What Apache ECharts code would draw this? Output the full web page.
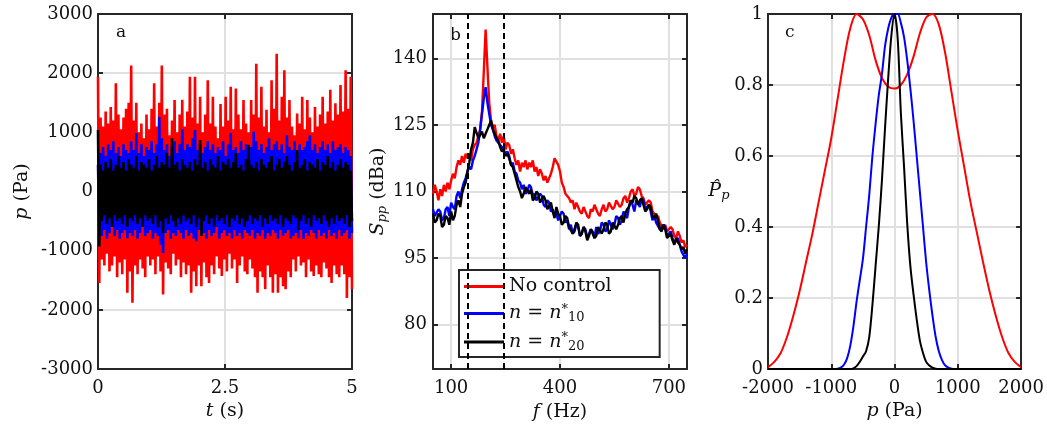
<!DOCTYPE html>
<html><head><meta charset="utf-8">
<script src="https://cdn.jsdelivr.net/npm/echarts@6/dist/echarts.min.js"></script>
<style>html,body{margin:0;padding:0;background:#fff}#c{width:1047px;height:432px}</style>
</head><body><div id="c"></div>
<script>
const F = 'DejaVu Serif';
// ---- panel a: envelope samples (upper / lower) of p(t), 100 samples over 0..5 s
const redUp = [1940,1250,1100,1350,1150,1430,1200,1830,1300,1050,1250,1400,1500,2130,1200,1500,1000,1150,900,1300,1050,1400,1830,1100,1500,2130,1300,1400,950,1200,1545,1000,1300,1550,1100,1350,1940,1250,1940,1150,1600,1000,1300,1880,1150,1600,1100,900,1480,1100,1600,1200,1770,1050,1740,1300,1050,1545,1150,1000,1545,1300,2160,1250,1770,1100,1380,1000,1880,1400,2330,1200,1600,2050,1250,1545,1100,950,1320,1150,1600,1050,1545,1250,1000,1430,1100,1300,1600,1150,1350,1720,1200,1490,1300,1800,1350,2050,1400,1940];
const redLo = [-1545,-1150,-1250,-1050,-1350,-1250,-1100,-1450,-1200,-1400,-1150,-1710,-1350,-1880,-1250,-1400,-1150,-1300,-1450,-1100,-1250,-1150,-1400,-1100,-1350,-1740,-1200,-1300,-1400,-1050,-1250,-1150,-1450,-1200,-1400,-1250,-1710,-1350,-1600,-1250,-1600,-1200,-1450,-1545,-1250,-1400,-1100,-1300,-1430,-1150,-1350,-1050,-1300,-1150,-1545,-1250,-1100,-1350,-1400,-1150,-1300,-1450,-1710,-1350,-1450,-1650,-1250,-1450,-1710,-1400,-1710,-1450,-1600,-1650,-1350,-1450,-1150,-1350,-1100,-1250,-1200,-1450,-1150,-1350,-1430,-1250,-1400,-1450,-1200,-1300,-1450,-1545,-1250,-1400,-1450,-1250,-1400,-1800,-1450,-1650];
const blueUp = [450,650,750,600,800,700,850,650,750,600,800,700,650,850,700,990,650,800,600,750,700,850,650,800,1260,900,700,800,600,750,850,650,800,1050,700,800,750,900,1040,700,800,650,750,850,700,800,650,750,700,850,600,800,990,700,750,650,850,700,800,650,750,1010,850,700,800,650,750,900,700,800,850,700,800,650,950,750,700,850,650,800,700,750,850,950,700,800,650,750,850,700,800,650,850,700,750,800,650,750,700,600];
const blueLo = [-650,-750,-650,-800,-700,-600,-750,-650,-800,-700,-650,-790,-700,-750,-650,-800,-700,-600,-750,-700,-650,-800,-700,-750,-900,-1040,-700,-650,-800,-700,-750,-650,-700,-800,-650,-750,-700,-800,-840,-650,-750,-700,-800,-650,-750,-700,-600,-800,-700,-650,-750,-700,-800,-650,-750,-700,-800,-650,-700,-750,-650,-800,-700,-750,-650,-800,-700,-750,-650,-700,-800,-650,-750,-700,-650,-800,-750,-700,-790,-650,-800,-700,-750,-650,-700,-800,-650,-750,-700,-800,-650,-750,-700,-800,-650,-750,-700,-650,-800,-700];
const blackUp = [1040,450,350,500,400,550,350,450,600,400,500,350,550,450,400,600,350,500,450,400,550,350,450,600,400,500,450,650,400,900,450,500,350,550,450,400,500,350,550,450,870,400,500,350,550,450,400,600,350,500,450,550,400,500,650,400,450,350,550,790,450,400,500,350,550,450,400,500,600,350,450,550,400,500,600,450,350,500,700,400,450,550,350,500,450,400,550,350,500,450,600,400,500,350,450,550,400,500,450,350];
const blackLo = [-930,-500,-400,-550,-450,-600,-400,-500,-450,-550,-400,-600,-450,-500,-400,-550,-450,-600,-400,-500,-450,-550,-400,-600,-500,-700,-450,-550,-400,-500,-600,-450,-550,-400,-500,-450,-550,-400,-600,-450,-750,-500,-400,-550,-450,-600,-400,-500,-450,-550,-400,-600,-450,-500,-400,-550,-450,-600,-500,-400,-550,-450,-500,-400,-600,-450,-550,-400,-500,-450,-550,-400,-600,-450,-500,-550,-400,-450,-650,-500,-400,-550,-450,-600,-400,-500,-450,-550,-400,-500,-600,-450,-550,-400,-500,-450,-550,-400,-600,-500];
// ---- panel b: spectra, 5 Hz grid from 50 to 750 Hz
const freq = [50,55,60,65,70,75,80,85,90,95,100,105,110,115,120,125,130,135,140,145,150,155,160,165,170,175,180,185,190,195,200,205,210,215,220,225,230,235,240,245,250,255,260,265,270,275,280,285,290,295,300,305,310,315,320,325,330,335,340,345,350,355,360,365,370,375,380,385,390,395,400,405,410,415,420,425,430,435,440,445,450,455,460,465,470,475,480,485,490,495,500,505,510,515,520,525,530,535,540,545,550,555,560,565,570,575,580,585,590,595,600,605,610,615,620,625,630,635,640,645,650,655,660,665,670,675,680,685,690,695,700,705,710,715,720,725,730,735,740,745,750];
const sppRed = [109.5,111.5,110,108,110.5,109,111.5,110,112,110.5,112.5,114,113,115.5,117,116,118,116.5,118.5,117.5,118.5,117,119.5,120.5,121,122.5,124,128,137,146.5,138,130,126,124.5,125,122.5,121.5,123,121,122.5,119.5,121,120.5,118.5,119.5,117.5,116,117,114.5,116.5,115.5,117,115,116.5,115.5,117,114.5,115.5,113.5,115,114,112.5,113.5,112,113,114,115.5,117.5,117.8,116,114.5,112,111,109.5,109,108.5,107.5,108,106,107.5,106.5,105.5,105,106.5,106.5,104.5,104,106,105.5,107,106,105,104.5,106,107,105.5,106,107.5,107.5,106,106.5,108,108,106.5,107,108.5,109,107.5,108.5,110,110.5,109,109.5,111,110.5,109,108.5,107,107,108,107.5,105.5,105,104,104.5,103,103,101.5,102.5,101,101,102,101.5,100,99.5,101,100,98.5,99,97.5,98];
const sppBlue = [106,104.5,104.5,106,105.5,103.5,104,106,106.5,104.5,107.5,106.5,106,109,110,108.5,110.5,112,113,114.5,115.5,115,117,118,119.5,121,124,127.5,131,133.5,130,127.5,125,124,122.5,121.5,121,120.5,120,119,118.5,119,118,116,116.5,114.5,114,112.5,112,110.5,111.5,109.5,110,111.5,111,109,109.5,108,108,109.5,109,107,106.5,108,107.5,105.5,106,104.5,105,103.5,104.5,105.5,105,103,103.5,101.5,102.5,100.5,101,102.5,102,100,100.5,102,101.5,99.5,99.5,101.5,101,99.5,102,100.5,101,103,102.5,101,101.5,103.5,103.5,101.5,102.5,104.5,104,102.5,103.5,105.5,105.5,104,106.5,108,107,105.5,108,107.5,106.5,108.5,108,106,106,107,105.5,103.5,104.5,103,103,101.5,101.5,102.5,102,100,100.5,101,99.5,98.5,98.5,99.5,98,96.5,96.5,95,96];
const sppBlack = [105,103,103.5,105,104.5,102,102.5,104.5,104,102.5,105.5,103.5,104.5,107,108,106.5,109.5,111,112,114.5,116.5,119.5,121,124.5,124.5,122,122,123.5,122,123,124,125,126,124,123,122,121.5,120,119,119.5,118,118.5,117.5,116,115.5,114,112.5,111,110,108.5,109.5,111,111,109.5,110.5,108,108.5,110,109.5,107.5,107.5,109,108,106,106,107.5,105.5,104,106.5,105,104.5,102.5,103,104.5,104,102,102,100.5,101.5,103,102.5,100,100.5,102,101,99,100,101.5,101.5,99.5,100,102,102,100.5,101.5,103,102.5,100.5,101,103,103,101.5,102.5,104,104.5,103,105,106,106.5,108,107.5,109,108.5,107,108,108.5,107,105.5,106,107,106.5,104.5,104,105,103.5,101.5,101,102.5,101.5,99.5,100,100.5,99,98,99.5,98.5,98,97,97.5,96,97];
const dashF = [145, 245];
const fTicks = [100, 400, 700];
const sTicks = [80, 95, 110, 125, 140];
// ---- panel c: normalised PDFs
const pRed = [-2000,-1900,-1800,-1700,-1600,-1500,-1400,-1300,-1200,-1100,-1000,-900,-800,-700,-600,-500,-400,-300,-200,-100,0,100,200,300,400,500,600,700,800,900,1000,1100,1200,1300,1400,1500,1600,1700,1800,1900,2000];
const pdfRed = [0.005,0.02,0.045,0.09,0.15,0.22,0.30,0.38,0.47,0.56,0.65,0.76,0.87,0.96,1.0,0.985,0.94,0.87,0.82,0.795,0.79,0.80,0.83,0.88,0.945,0.99,1.0,0.97,0.89,0.78,0.67,0.57,0.47,0.385,0.30,0.22,0.15,0.09,0.045,0.02,0.005];
const pNarrow = [-2000,-1000,-950,-900,-850,-800,-750,-700,-650,-600,-550,-500,-450,-400,-350,-300,-250,-200,-150,-100,-50,0,50,100,150,200,250,300,350,400,450,500,550,600,650,700,750,800,850,900,950,1000,2000];
const pdfBlue = [0,0,0,0.001,0.004,0.012,0.03,0.065,0.12,0.19,0.25,0.31,0.40,0.49,0.60,0.69,0.77,0.83,0.91,0.96,0.99,1.0,1.0,0.975,0.935,0.87,0.79,0.70,0.60,0.50,0.40,0.30,0.22,0.15,0.09,0.05,0.025,0.01,0.004,0.001,0,0,0];
const pdfBlack = [0,0,0,0,0,0,0,0,0.002,0.008,0.02,0.035,0.05,0.09,0.18,0.29,0.40,0.53,0.68,0.82,0.94,1.0,0.93,0.72,0.57,0.41,0.29,0.21,0.14,0.08,0.045,0.02,0.01,0.004,0.001,0,0,0,0,0,0,0,0];

function zig(up, lo, tMax) {
  const n = up.length * 2, out = [];
  for (let i = 0; i < up.length; i++) {
    out.push([(2 * i) * tMax / (n - 1), up[i]]);
    out.push([(2 * i + 1) * tMax / (n - 1), lo[i]]);
  }
  return out;
}
const pairs = (xs, ys) => xs.slice(0, Math.min(xs.length, ys.length)).map((x, i) => [x, ys[i]]);

const AX = '#262626';
const label = {color: '#111', fontFamily: F, fontSize: 18, formatter: v => String(+v.toFixed(6))};
const rich = {
  i: {fontStyle: 'italic', fontFamily: F, fontSize: 19, color: '#111'},
  n: {fontFamily: F, fontSize: 19, color: '#111'},
  s: {fontStyle: 'italic', fontFamily: F, fontSize: 13, color: '#111', padding: [9, 0, 0, 0]}
};
function ax(gi, pos, o, main) {
  const a = Object.assign({
    gridIndex: gi, type: 'value', position: pos,
    axisLine: {show: true, onZero: false, lineStyle: {color: AX, width: 2}},
    axisTick: {show: true, inside: true, length: 5, lineStyle: {color: AX, width: 2}},
    splitLine: {show: main, lineStyle: {color: '#e0e0e0', width: 2}},
    axisLabel: Object.assign({show: main, margin: 8}, label),
    nameTextStyle: {fontFamily: F, fontSize: 19, color: '#111', rich: rich}
  }, o);
  if (o.customValues) {
    a.axisTick.customValues = o.customValues;
    a.axisLabel.customValues = o.customValues;
    delete a.customValues;
  }
  return a;
}

const xAxis = [
  ax(0, 'bottom', {min: 0, max: 5, interval: 2.5, name: '{i|t} {n|(s)}', nameLocation: 'middle', nameGap: 27}, true),
  ax(0, 'top', {min: 0, max: 5, interval: 2.5}, false),
  ax(1, 'bottom', {min: 50, max: 750, customValues: fTicks, name: '{i|f} {n|(Hz)}', nameLocation: 'middle', nameGap: 34}, true),
  ax(1, 'top', {min: 50, max: 750, customValues: fTicks}, false),
  ax(2, 'bottom', {min: -2000, max: 2000, interval: 1000, name: '{i|p} {n|(Pa)}', nameLocation: 'middle', nameGap: 27}, true),
  ax(2, 'top', {min: -2000, max: 2000, interval: 1000}, false)
];
const yAxis = [
  ax(0, 'left', {min: -3000, max: 3000, interval: 1000, name: '{i|p} {n|(Pa)}', nameLocation: 'middle', nameGap: 66}, true),
  ax(0, 'right', {min: -3000, max: 3000, interval: 1000}, false),
  ax(1, 'left', {min: 70, max: 150, customValues: sTicks, name: '{i|S}{s|pp} {n|(dBa)}', nameLocation: 'middle', nameGap: 20}, true),
  ax(1, 'right', {min: 70, max: 150, customValues: sTicks}, false),
  ax(2, 'left', {min: 0, max: 1, interval: 0.2, name: '{i|P\u0302}{s|p}', nameLocation: 'middle', nameGap: 36, nameRotate: 0}, true),
  ax(2, 'right', {min: 0, max: 1, interval: 0.2}, false)
];
yAxis[0].axisLabel.margin = 5;
yAxis[2].axisLabel.margin = 6;
yAxis[4].axisLabel.margin = 5;
xAxis.forEach(a => { if (a.axisLabel.show) a.axisLabel.margin = 10; });

const line = (name, xi, data, color, w, extra) => Object.assign({
  name: name, type: 'line', xAxisIndex: xi, yAxisIndex: xi, data: data,
  symbol: 'none', showSymbol: false, lineStyle: {color: color, width: w}, itemStyle: {color: color},
  animation: false, silent: true
}, extra || {});

const series = [
  line('a-red', 0, zig(redUp, redLo, 5), '#ff0000', 2.6),
  line('a-blue', 0, zig(blueUp, blueLo, 5), '#0000ff', 2.6),
  line('a-black', 0, zig(blackUp, blackLo, 5), '#000000', 2.6),
  line('No control', 2, pairs(freq, sppRed), '#ff0000', 2.4, {
    markLine: {symbol: 'none', silent: true, animation: false, label: {show: false},
      lineStyle: {color: '#000', type: [6, 4], width: 2}, data: dashF.map(v => ({xAxis: v}))}
  }),
  line('n10', 2, pairs(freq, sppBlue), '#0000ff', 2.4),
  line('n20', 2, pairs(freq, sppBlack), '#000000', 2.4),
  line('c-red', 4, pairs(pRed, pdfRed), '#ff0000', 2, {smooth: 0.3}),
  line('c-blue', 4, pairs(pNarrow, pdfBlue), '#0000ff', 2, {smooth: 0.3}),
  line('c-black', 4, pairs(pNarrow, pdfBlack), '#000000', 2, {smooth: 0.3})
];

const legendNames = {'No control': '{n|No control}', 'n10': '{i|n} {n|=} {i|n}{u|*}{d|10}', 'n20': '{i|n} {n|=} {i|n}{u|*}{d|20}'};

const chart = echarts.init(document.getElementById('c'), null, {renderer: 'canvas'});
chart.setOption({
  backgroundColor: '#fff',
  animation: false,
  grid: [
    {left: 98, top: 14, width: 254, height: 355},
    {left: 433, top: 14, width: 254, height: 355},
    {left: 768, top: 14, width: 255, height: 355}
  ],
  xAxis: xAxis,
  yAxis: yAxis,
  legend: {
    data: ['No control', 'n10', 'n20'], orient: 'vertical', left: 459, top: 270,
    backgroundColor: '#fff', borderColor: AX, borderWidth: 2, borderRadius: 0,
    padding: [7, 48, 4, 5], itemWidth: 40, itemHeight: 3, itemGap: 7, itemTextGap: 8,
    icon: 'rect',
    selectedMode: false,
    formatter: n => legendNames[n],
    textStyle: {fontFamily: F, fontSize: 19, color: '#111', rich: {
      n: {fontFamily: F, fontSize: 19, color: '#111'},
      i: {fontFamily: F, fontSize: 19, fontStyle: 'italic', color: '#111'},
      u: {fontFamily: F, fontSize: 13, color: '#111', padding: [0, 0, 8, 0]},
      d: {fontFamily: F, fontSize: 13, color: '#111', padding: [9, 0, 0, 0]}
    }}
  },
  graphic: [
    {type: 'text', left: 116, top: 24, style: {text: 'a', font: '17px "DejaVu Serif"', fill: '#111'}},
    {type: 'text', left: 450, top: 27, style: {text: 'b', font: '17px "DejaVu Serif"', fill: '#111'}},
    {type: 'text', left: 785, top: 24, style: {text: 'c', font: '17px "DejaVu Serif"', fill: '#111'}}
  ],
  series: series
});
</script>
</body></html>
